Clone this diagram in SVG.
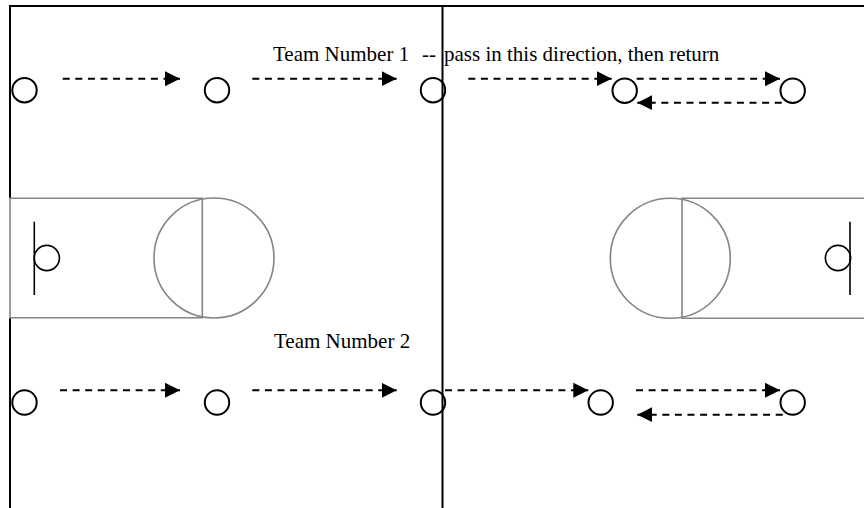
<svg xmlns="http://www.w3.org/2000/svg" width="864" height="508" viewBox="0 0 864 508">
<style>
.court{fill:none;stroke:#000;stroke-width:2}
.key{fill:none;stroke:#858585;stroke-width:1.6}
.hoop{fill:none;stroke:#000;stroke-width:1.6}
.player{fill:none;stroke:#000;stroke-width:2}
.pass{fill:none;stroke:#000;stroke-width:2;stroke-dasharray:7 5.6;marker-end:url(#ah)}
.label{font-family:"Liberation Serif","Times New Roman",serif;font-size:21px;fill:#000}
</style>
<defs>
<marker id="ah" markerUnits="userSpaceOnUse" markerWidth="16" markerHeight="16" viewBox="0 0 16 16" refX="15" refY="8" orient="auto">
<path d="M0,0.5 L15,8 L0,15.5 Z" fill="#000"/>
</marker>
</defs>
<rect width="864" height="508" fill="#fff"/>
<g id="court">
<line class="court" x1="9" y1="6" x2="864" y2="6"/>
<line class="court" x1="10" y1="6" x2="10" y2="198"/>
<line class="court" x1="10" y1="318" x2="10" y2="508"/>
<line class="court" x1="442.5" y1="6" x2="442.5" y2="508"/>
<path class="key" d="M10,198.3 H202.3 V317.7 H10 Z"/>
<circle class="key" cx="214" cy="258" r="60"/>
<path class="key" d="M866,198.3 H682 V318.3 H866"/>
<circle class="key" cx="670.3" cy="258.3" r="60"/>
<line class="hoop" x1="34.3" y1="221.7" x2="34.3" y2="295"/>
<circle class="hoop" cx="46.8" cy="258" r="12.6"/>
<line class="hoop" x1="850" y1="221.7" x2="850" y2="295"/>
<circle class="hoop" cx="838" cy="258" r="12.6"/>
</g>
<g id="labels">
<text class="label" x="273" y="60.5" xml:space="preserve">Team Number 1  <tspan x="422">--</tspan> <tspan x="444">pass in this direction, then return</tspan></text>
<text class="label" x="274" y="348.3">Team Number 2</text>
</g>
<g id="connectors">
<line class="pass" x1="62.7" y1="78.7" x2="180" y2="78.7"/>
<line class="pass" x1="252.3" y1="78.7" x2="396.7" y2="78.7"/>
<line class="pass" x1="468.3" y1="78.7" x2="611.7" y2="78.7"/>
<line class="pass" x1="636.7" y1="78.7" x2="780" y2="78.7"/>
<line class="pass" x1="781.7" y1="102.7" x2="637.3" y2="102.7"/>
<line class="pass" x1="60" y1="390.3" x2="180" y2="390.3"/>
<line class="pass" x1="252.3" y1="390.3" x2="396.7" y2="390.3"/>
<line class="pass" x1="445" y1="390.3" x2="588.3" y2="390.3"/>
<line class="pass" x1="636" y1="390.3" x2="780" y2="390.3"/>
<line class="pass" x1="782.7" y1="414.7" x2="637.3" y2="414.7"/>
</g>
<g id="team1-p1"><circle class="player" cx="24.5" cy="90.2" r="12.2"/></g>
<g id="team1-p2"><circle class="player" cx="217" cy="90.2" r="12.2"/></g>
<g id="team1-p3"><circle class="player" cx="433" cy="90.2" r="12.2"/></g>
<g id="team1-p4"><circle class="player" cx="624.7" cy="90.7" r="12.2"/></g>
<g id="team1-p5"><circle class="player" cx="792.7" cy="90.7" r="12.2"/></g>
<g id="team2-p1"><circle class="player" cx="24.5" cy="402.5" r="12.2"/></g>
<g id="team2-p2"><circle class="player" cx="217" cy="402.5" r="12.2"/></g>
<g id="team2-p3"><circle class="player" cx="433" cy="402.5" r="12.2"/></g>
<g id="team2-p4"><circle class="player" cx="600.7" cy="402.5" r="12.2"/></g>
<g id="team2-p5"><circle class="player" cx="792.7" cy="402.5" r="12.2"/></g>
</svg>
